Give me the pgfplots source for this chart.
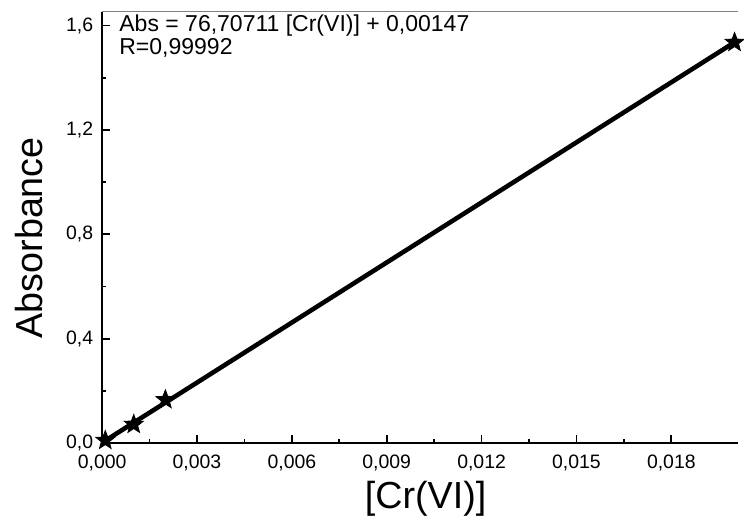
\documentclass[border=0pt]{standalone}
\usepackage{fontspec}
\setmainfont{Liberation Sans}
\usepackage{pgfplots}
\pgfplotsset{compat=1.18}
\pgfdeclareplotmark{fstar}{%
  \pgfpathmoveto{\pgfpointpolar{90}{\pgfplotmarksize}}%
  \pgfpathlineto{\pgfpointpolar{126}{0.42\pgfplotmarksize}}%
  \pgfpathlineto{\pgfpointpolar{162}{\pgfplotmarksize}}%
  \pgfpathlineto{\pgfpointpolar{198}{0.42\pgfplotmarksize}}%
  \pgfpathlineto{\pgfpointpolar{234}{\pgfplotmarksize}}%
  \pgfpathlineto{\pgfpointpolar{270}{0.42\pgfplotmarksize}}%
  \pgfpathlineto{\pgfpointpolar{306}{\pgfplotmarksize}}%
  \pgfpathlineto{\pgfpointpolar{342}{0.42\pgfplotmarksize}}%
  \pgfpathlineto{\pgfpointpolar{18}{\pgfplotmarksize}}%
  \pgfpathlineto{\pgfpointpolar{54}{0.42\pgfplotmarksize}}%
  \pgfpathclose
  \pgfusepathqfillstroke}
\begin{document}
\begin{tikzpicture}
\begin{axis}[
  name=ax,
  scale only axis, width=320.5pt, height=217.4pt,
  xmin=0, xmax=0.0201, ymin=0, ymax=1.652,
  axis x line*=bottom, axis y line*=left,
  axis line style={black, line width=1pt},
  tick align=inside,
  major tick length=4pt, minor tick length=2.2pt,
  every tick/.style={black, line width=0.9pt},
  xtick={0,0.003,0.006,0.009,0.012,0.015,0.018},
  ytick={0,0.4,0.8,1.2,1.6},
  minor x tick num=1, minor y tick num=1,
  scaled x ticks=false, scaled y ticks=false,
  /pgf/number format/assume math mode=true,
  xticklabel style={yshift=-2.5pt, font=\fontsize{9.8pt}{11pt}\selectfont, /pgf/number format/.cd, fixed, fixed zerofill, precision=3, use comma},
  yticklabel style={xshift=-1pt, font=\fontsize{9.8pt}{11pt}\selectfont, /pgf/number format/.cd, fixed, fixed zerofill, precision=1, use comma},
  xlabel={[Cr(VI)]},
  ylabel={Absorbance},
  xlabel style={font=\fontsize{19pt}{22pt}\selectfont, at={(axis description cs:0.509,-0.129)}, anchor=center},
  ylabel style={font=\fontsize{19pt}{22pt}\selectfont, at={(axis description cs:-0.115,0.476)}, anchor=center},
  clip=true,
  after end axis/.code={\draw[gray, line width=0.6pt] (rel axis cs:0,1) -- (rel axis cs:1,1);},
]
\addplot[black, line width=2.3pt, no marks] coordinates {(0,0.00147) (0.02,1.53561)};
\addplot[only marks, mark=fstar, mark size=5pt, mark options={fill=black, draw=black, line width=0.4pt}] coordinates {
  (0.0001,0.010) (0.001,0.0715) (0.002,0.166) (0.02,1.535)
};
\node[anchor=base west, font=\fontsize{11.6pt}{13pt}\selectfont, inner sep=0pt] at (rel axis cs:0.0265,0.954) {Abs = 76,70711 [Cr(VI)] + 0,00147};
\node[anchor=base west, font=\fontsize{11.6pt}{13pt}\selectfont, inner sep=0pt] at (rel axis cs:0.0265,0.901) {R=0,99992};
\end{axis}
\path ([xshift=-51.5pt,yshift=-39.1pt]ax.south west) rectangle ([xshift=320.5pt,yshift=223.4pt]ax.south west);
\end{tikzpicture}
\end{document}
